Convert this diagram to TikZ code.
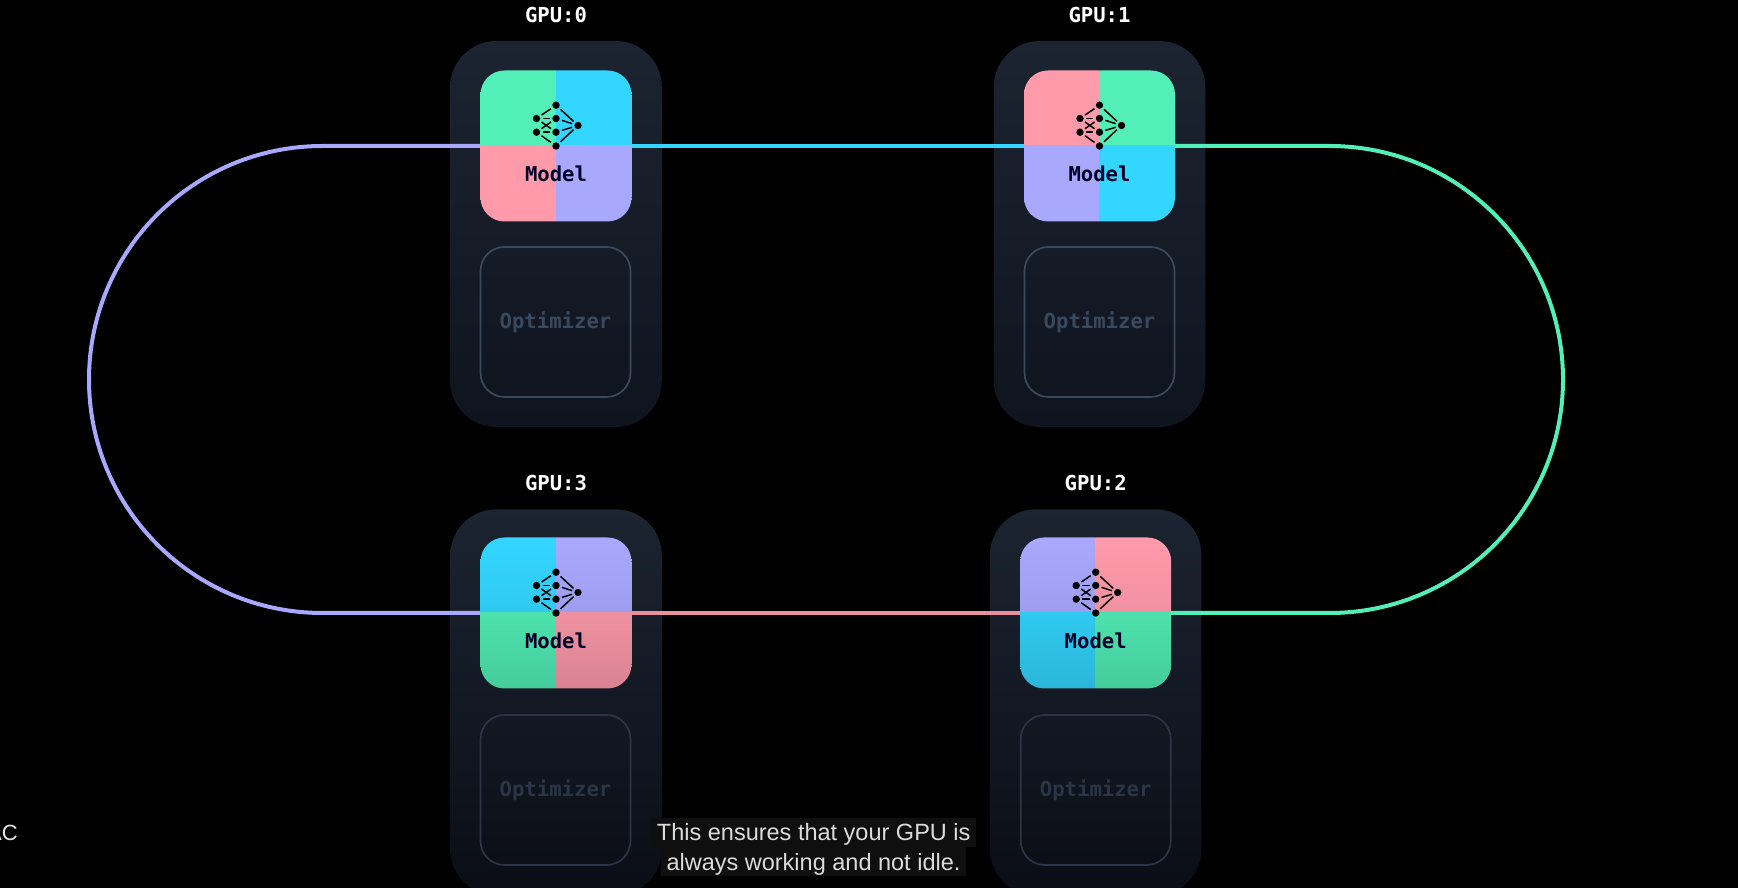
\documentclass[tikz,border=0pt]{standalone}
\usepackage{fontspec}
\usetikzlibrary{positioning}
\newfontfamily\gpumono{DejaVu Sans Mono}
\newfontfamily\subfont{Liberation Sans}
\definecolor{ringgreen}{HTML}{52F0B8}
\definecolor{ringcyan}{HTML}{33D6FF}
\definecolor{ringpink}{HTML}{FF9AAB}
\definecolor{ringpurple}{HTML}{A8A8FF}
\definecolor{cardtop}{HTML}{1C2431}
\definecolor{cardlow}{HTML}{0F141E}
\definecolor{cardend}{HTML}{0A0D15}
\definecolor{optline}{HTML}{3A4A5E}
\definecolor{optdim}{HTML}{2A3647}
\tikzset{
  gpucard/.style={rectangle,rounded corners=46bp,minimum width=211.5bp,minimum height=386bp,inner sep=0pt},
  optbox/.style={rectangle,rounded corners=24bp,minimum width=150bp,minimum height=150bp,line width=1.7bp,inner sep=0pt,
    font=\gpumono\bfseries\fontsize{20.6bp}{24bp}\selectfont},
  modelbox/.style={rectangle,rounded corners=24bp,minimum width=151bp,minimum height=151bp,inner sep=0pt},
  gputext/.style={text=white,font=\gpumono\bfseries\fontsize{20.6bp}{24bp}\selectfont},
  modeltext/.style={text=black!85!blue,font=\gpumono\bfseries\fontsize{20.6bp}{24bp}\selectfont},
  ring/.style={line width=4bp},
  neuron/.style={circle,fill=black,minimum size=7.4bp,inner sep=0pt,outer sep=0pt},
  synapse/.style={line width=1.5bp,shorten >=2.4bp,shorten <=2.4bp},
  subline/.style={fill=black!94!white,text=white!86!black,inner xsep=6bp,inner ysep=0pt,text height=23bp,text depth=6bp,
    font=\subfont\fontsize{23.5bp}{29bp}\selectfont},
}
% #1 name, #2 place, #3..#6 quadrants, #7 #8 shade at middle and bottom
\newcommand{\gpumodel}[8]{
  \node[modelbox,path picture={
    \begin{scope}[sharp corners]
    \shade[top color=#3,bottom color=#3!#7!black] (path picture bounding box.north west) rectangle (path picture bounding box.center);
    \shade[top color=#4,bottom color=#4!#7!black] (path picture bounding box.north east) rectangle (path picture bounding box.center);
    \shade[top color=#5!#7!black,bottom color=#5!#8!black] (path picture bounding box.south west) rectangle (path picture bounding box.center);
    \shade[top color=#6!#7!black,bottom color=#6!#8!black] (path picture bounding box.south east) rectangle (path picture bounding box.center);
    \end{scope}
  }] (#1) at (#2) {};
  \node[modeltext] (#1text) at ([yshift=-27.5bp]#1.center) {Model};
  \foreach \nid/\dx/\dy in {a1/-19.5/27.5,a2/-19.5/13.8,b1/0/40.8,b2/0/27.5,b3/0/13.8,b4/0/0,c/22/20.5}
    \node[neuron] (#1\nid) at ([xshift=\dx bp,yshift=\dy bp]#1.center) {};
  \foreach \from/\to in {a1/b1,a1/b2,a1/b3,a2/b2,a2/b3,a2/b4,b1/c,b2/c,b3/c,b4/c}
    \draw[synapse] (#1\from) -- (#1\to);
}

\begin{document}
\begin{tikzpicture}
\path[use as bounding box,clip] (0bp,0bp) rectangle (1738bp,888bp);
\fill[black] (0bp,0bp) rectangle (1738bp,888bp);

% Card: gpu 0
\node[gpucard,top color=cardtop,bottom color=cardlow] (card0) at (556bp,654bp) {};
\node[optbox,draw=optline,text=optline] (opt0) at (555.5bp,566bp) {Optimizer};
\node[gputext] (label0) at (556bp,873bp) {GPU:0};

% Card: gpu 1
\node[gpucard,top color=cardtop,bottom color=cardlow] (card1) at (1099.5bp,654bp) {};
\node[optbox,draw=optline,text=optline] (opt1) at (1099.5bp,566bp) {Optimizer};
\node[gputext] (label1) at (1099.5bp,873bp) {GPU:1};

% Card: gpu 3
\node[gpucard,top color=cardtop,bottom color=cardend] (card3) at (556bp,185.7bp) {};
\node[optbox,draw=optdim,text=optdim] (opt3) at (555.5bp,98bp) {Optimizer};
\node[gputext] (label3) at (556bp,405bp) {GPU:3};

% Card: gpu 2
\node[gpucard,top color=cardtop,bottom color=cardend] (card2) at (1095.7bp,185.7bp) {};
\node[optbox,draw=optdim,text=optdim] (opt2) at (1095.7bp,98bp) {Optimizer};
\node[gputext] (label2) at (1095.7bp,405bp) {GPU:2};

% Ring
\coordinate (hub0) at (556bp,742bp);
\coordinate (hub1) at (1099.5bp,742bp);
\coordinate (hub2) at (1095.7bp,275bp);
\coordinate (hub3) at (556bp,275bp);
\coordinate (turnl) at (322.5bp,742bp);
\coordinate (turnr) at (1329.5bp,742bp);
\draw[ring,ringpurple] (hub0) -- (turnl) arc[start angle=90,end angle=270,radius=233.5bp] -- (hub3);
\draw[ring,ringcyan] (hub0) -- (hub1);
\draw[ring,ringgreen] (hub1) -- (turnr) arc[start angle=90,end angle=-90,radius=233.5bp] -- (hub2);
\draw[ring,ringpink!92!black] (hub3) -- (hub2);

% Models
\gpumodel{model0}{hub0}{ringgreen}{ringcyan}{ringpink}{ringpurple}{100}{100}
\gpumodel{model1}{hub1}{ringpink}{ringgreen}{ringpurple}{ringcyan}{100}{100}
\gpumodel{model2}{hub2}{ringpurple}{ringpink}{ringcyan}{ringgreen}{94}{85}
\gpumodel{model3}{hub3}{ringcyan}{ringpurple}{ringgreen}{ringpink}{94}{85}

% Subtitles
\node[subline] (sub0) at (813.7bp,55.5bp) {This ensures that your GPU is};
\node[subline] (sub1) at (813.5bp,26.5bp) {always working and not idle.};
\node[anchor=east,text=white!90!black,inner sep=0pt,font=\subfont\fontsize{22bp}{26bp}\selectfont] (edgetext) at (18bp,55bp) {AC};
\end{tikzpicture}
\end{document}
